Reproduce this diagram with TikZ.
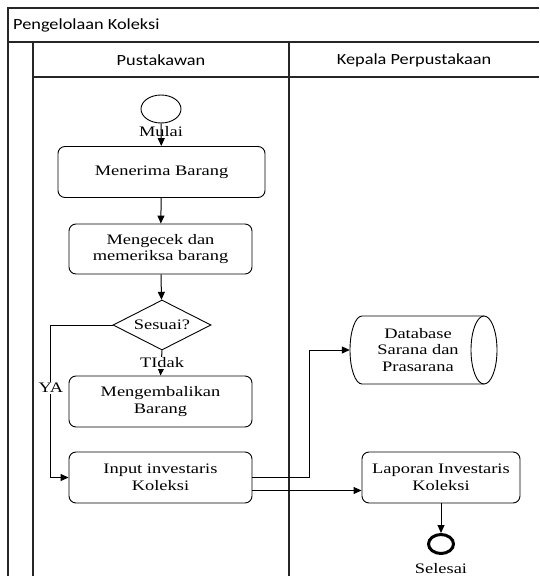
\documentclass[tikz,border=0pt]{standalone}
\usepackage{fontspec}
\setmainfont{Liberation Serif}[FakeStretch=1.27]
\newfontfamily\lanefont{Carlito}[FakeStretch=1.18]
\usetikzlibrary{arrows.meta,shapes.geometric,calc}

\begin{document}
\begin{tikzpicture}[x=1pt,y=-1pt,
  font=\fontsize{14.5}{16.8}\selectfont,
  lane/.style={line width=1.1pt, draw=black!85},
  lanetext/.style={font=\lanefont\fontsize{15.5}{18}\selectfont, inner sep=0pt},
  proc/.style={draw, rounded corners=7pt, line width=0.9pt, align=center,
    inner sep=0pt, minimum height=51pt},
  flow/.style={line width=1pt, -{Triangle[length=8pt,width=7pt]}},
  tag/.style={inner sep=0.8pt},
]
\useasboundingbox (0,0) rectangle (539,576);

% swimlane frame
\draw[lane] (539,8) -- (8,8) -- (8,576);
\draw[lane] (8,42) -- (539,42);
\draw[lane] (33,42) -- (33,576);
\draw[lane] (33,77) -- (539,77);
\draw[lane] (289,42) -- (289,576);

\node[lanetext, anchor=west] (title) at (13,25) {Pengelolaan Koleksi};
\node[lanetext] (lane1) at (161,60) {Pustakawan};
\node[lanetext] (lane2) at (414,60) {Kepala Perpustakaan};

% Pustakawan lane
\node[ellipse, draw, line width=0.9pt, minimum width=40pt, minimum height=28pt, inner sep=0pt] (start) at (161,109) {};
\node[proc, minimum width=207pt] (terima) at (161.5,172) {Menerima Barang};
\node[proc, minimum width=183pt, minimum height=50pt] (cek) at (160.5,249) {Mengecek dan\\memeriksa barang};
\node[diamond, draw, line width=0.9pt, aspect=1.96, minimum width=98pt, minimum height=50pt, inner sep=0pt] (dec) at (162,325) {Sesuai?};
\node[proc, minimum width=183pt] (kembali) at (160.5,401.5) {Mengembalikan\\Barang};
\node[proc, minimum width=183pt] (input) at (160.5,477.5) {Input investaris\\Koleksi};

% Kepala Perpustakaan lane
\node[inner sep=0pt, minimum width=136pt, minimum height=68pt, align=center] (db) at (418,350) {Database\\Sarana dan\\Prasarana};
\draw[line width=0.9pt] (362,316) -- (484,316)
  arc[start angle=-90, end angle=90, x radius=13, y radius=34] -- (362,384)
  arc[start angle=90, end angle=270, x radius=12, y radius=34] -- cycle;
\draw[line width=0.9pt] (484,316) arc[start angle=-90, end angle=-270, x radius=13, y radius=34];
\node[proc, minimum width=158pt] (lapor) at (441,477.5) {Laporan Investaris\\Koleksi};
\node[ellipse, draw, line width=3pt, minimum width=25pt, minimum height=19pt, inner sep=0pt] (end) at (441,544) {};
\node[tag] (selesai) at (441,569) {Selesai};

% connectors
\draw[flow] (start) -- (terima);
\node[tag] (mulai) at (161,132) {Mulai};
\draw[flow] (terima) -- (cek);
\draw[flow] (cek) -- (dec);
\draw[flow] (dec.south) -- (kembali.north);
\node[tag, fill=white] (tidak) at (162,363) {TIdak};
\draw[flow] (dec.west) -- ++(-62,0) |- (input.west);
\node[tag, fill=white] (ya) at (51,388) {YA};
\draw[flow] (input.east) -- ++(57,0) |- (db.west);
\coordinate (out2) at ([yshift=-13pt]input.east);
\draw[flow] (out2) -- (out2 -| lapor.west);
\draw[flow] (lapor) -- (end);
\end{tikzpicture}
\end{document}
